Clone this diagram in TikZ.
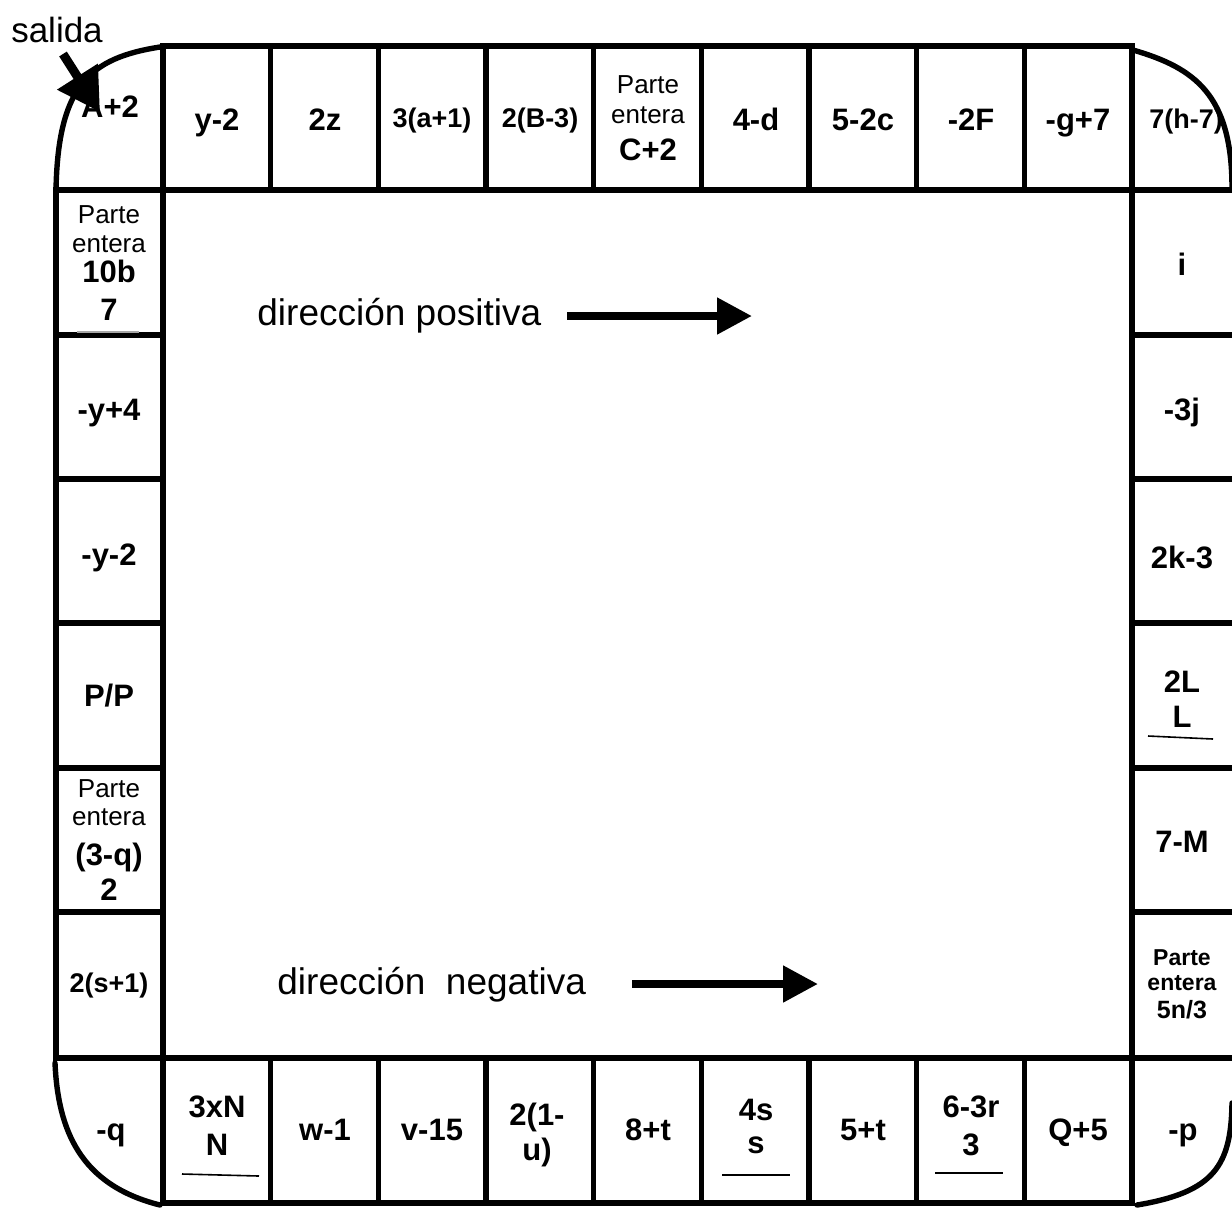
\documentclass[tikz,border=0pt]{standalone}
\usepackage{fontspec}
\setmainfont{Liberation Sans}
\usetikzlibrary{arrows.meta}
\begin{document}
\begin{tikzpicture}[x=0.5pt,y=-0.5pt,
  board/.style={line width=2.7pt, line cap=rect},
  corner/.style={line width=2.7pt, line cap=round},
  bar/.style={line width=0.8pt},
  lab/.style={inner sep=0pt, anchor=base, font=\bfseries\fontsize{15.5}{18}\selectfont},
  labsm/.style={lab, font=\bfseries\fontsize{13.5}{16}\selectfont},
  labxs/.style={lab, font=\bfseries\fontsize{11.5}{14}\selectfont},
  parte/.style={inner sep=0pt, anchor=base, font=\fontsize{13}{16}\selectfont},
  dirtext/.style={inner sep=0pt, anchor=base west, font=\fontsize{18.5}{22}\selectfont},
  dirarrow/.style={line width=4pt, -{Triangle[length=17.5pt,width=17.5pt]}},
]
\fill[white] (0,0) rectangle (1232,1207);
\useasboundingbox (0,0) rectangle (1232,1207);

% board outline and cell separators
\draw[board] (163,46) -- (1132,46);
\draw[board] (56,190) -- (1232,190);
\draw[board] (56,1058) -- (1232,1058);
\draw[board] (163,1203) -- (1132,1203);
\draw[board] (163,46) -- (163,1203);
\draw[board] (1132,46) -- (1132,1203);
\draw[board] (56,190) -- (56,1058);
\foreach \i in {1,...,8} {
  \draw[board] ({163+107.67*\i},46) -- ({163+107.67*\i},190);
  \draw[board] ({163+107.67*\i},1058) -- ({163+107.67*\i},1203);
}
\foreach \y in {335,479,623,768,912} {
  \draw[board] (56,\y) -- (163,\y);
  \draw[board] (1132,\y) -- (1232,\y);
}

% rounded corner cells
\draw[corner] (160,47) .. controls (90,58) and (58,85) .. (56,190);
\draw[corner] (1133,50) .. controls (1195,68) and (1232,95) .. (1232,188);
\draw[corner] (55,1063) .. controls (58,1130) and (80,1185) .. (160,1205);
\draw[corner] (1232,1103) .. controls (1231,1165) and (1215,1192) .. (1137,1205);

% start marker
\node[inner sep=0pt, anchor=base, font=\fontsize{17.5}{20}\selectfont] (salida) at (57,42) {salida};
\coordinate (salA) at (63,54);
\coordinate (salB) at (100,112);
\draw[line width=4.5pt, -{Triangle[length=21pt,width=23pt]}] (salA) -- (salB);

% top row
\node[lab] (t0) at (110,117) {A+2};
\node[lab] (t1) at (217,130) {y-2};
\node[lab] (t2) at (325,130) {2z};
\node[labsm] (t3) at (432,127) {3(a+1)};
\node[labsm] (t4) at (540,127) {2(B-3)};
\node[parte] (t5a) at (648,93) {Parte};
\node[parte] (t5b) at (648,123) {entera};
\node[lab] (t5c) at (648,160) {C+2};
\node[lab] (t6) at (756,130) {4-d};
\node[lab] (t7) at (863,130) {5-2c};
\node[lab] (t8) at (971,130) {-2F};
\node[lab] (t9) at (1078,130) {-g+7};
\node[labsm] (t10) at (1186,128) {7(h-7)};

% left column
\node[parte] (l1a) at (109,223) {Parte};
\node[parte] (l1b) at (109,252) {entera};
\node[lab] (l1c) at (109,282) {10b};
\node[lab] (l1d) at (109,320) {7};
\draw[bar, gray!70] (77,332) -- (139,332);
\node[lab] (l2) at (109,420) {-y+4};
\node[lab] (l3) at (109,565) {-y-2};
\node[lab] (l4) at (109,706) {P/P};
\node[parte] (l5a) at (109,797) {Parte};
\node[parte] (l5b) at (109,825) {entera};
\node[lab] (l5c) at (109,865) {(3-q)};
\node[lab] (l5d) at (109,900) {2};
\node[labsm] (l6) at (109,992) {2(s+1)};

% right column
\node[lab] (r1) at (1182,275) {i};
\node[lab] (r2) at (1182,420) {-3j};
\node[lab] (r3) at (1182,568) {2k-3};
\node[lab] (r4a) at (1182,692) {2L};
\node[lab] (r4b) at (1182,727) {L};
\draw[bar] (1148,736) -- (1213,739);
\node[lab] (r5) at (1182,852) {7-M};
\node[labxs] (r6a) at (1182,965) {Parte};
\node[labxs] (r6b) at (1182,990) {entera};
\node[lab, font=\bfseries\fontsize{12.5}{15}\selectfont] (r6c) at (1182,1018) {5n/3};

% bottom row
\node[lab] (b0) at (111,1140) {-q};
\node[lab] (b1a) at (217,1117) {3xN};
\node[lab] (b1b) at (217,1155) {N};
\draw[bar] (182,1174) -- (259,1176);
\node[lab] (b2) at (325,1140) {w-1};
\node[lab] (b3) at (432,1140) {v-15};
\node[lab] (b4a) at (537,1125) {2(1-};
\node[lab] (b4b) at (537,1160) {u)};
\node[lab] (b5) at (648,1140) {8+t};
\node[lab] (b6a) at (756,1120) {4s};
\node[lab] (b6b) at (756,1153) {s};
\draw[bar] (722,1175) -- (790,1175);
\node[lab] (b7) at (863,1140) {5+t};
\node[lab] (b8a) at (971,1117) {6-3r};
\node[lab] (b8b) at (971,1155) {3};
\draw[bar] (935,1173) -- (1003,1173);
\node[lab] (b9) at (1078,1140) {Q+5};
\node[lab] (b10) at (1183,1140) {-p};

% direction hints
\node[dirtext] (pos) at (257,325) {dirección positiva};
\coordinate (posA) at (567,316);
\coordinate (posB) at (752,316);
\draw[dirarrow] (posA) -- (posB);
\node[dirtext] (neg) at (277,994) {dirección~~negativa};
\coordinate (negA) at (632,984);
\coordinate (negB) at (818,984);
\draw[dirarrow] (negA) -- (negB);
\end{tikzpicture}
\end{document}
